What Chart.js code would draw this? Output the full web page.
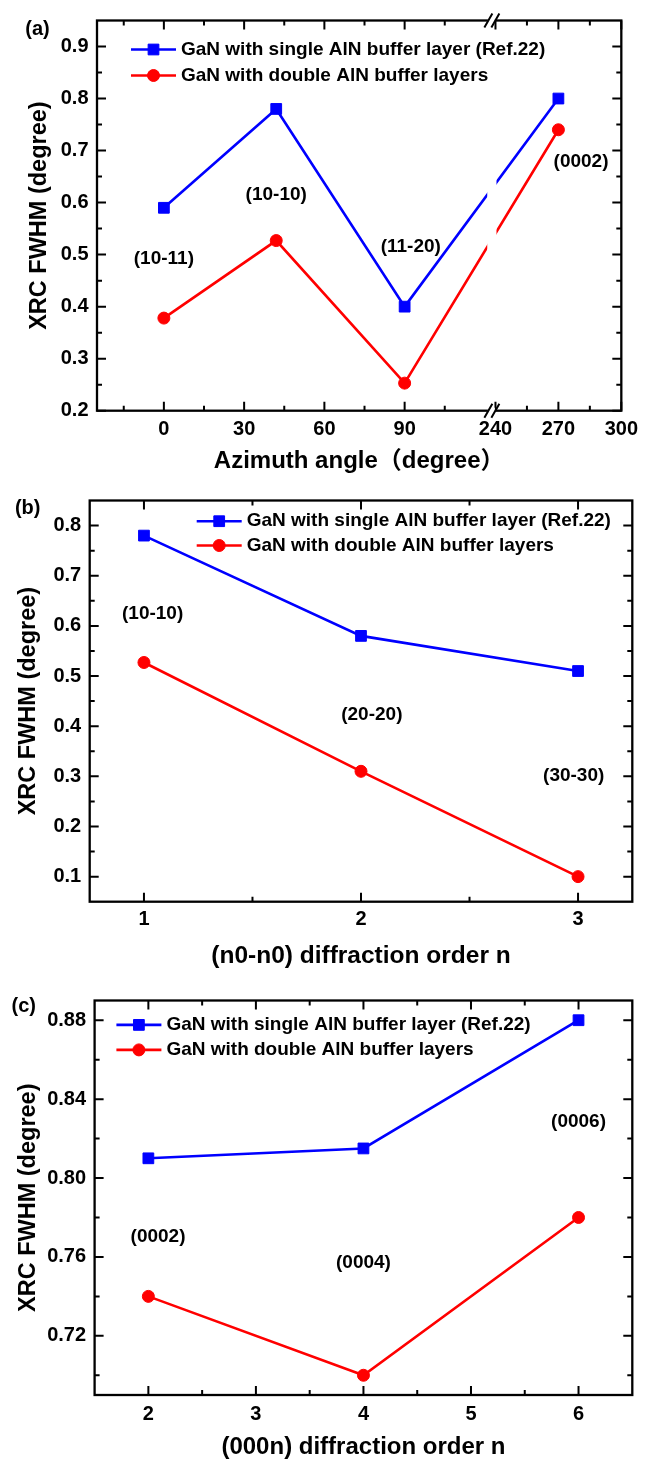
<!DOCTYPE html>
<html><head><meta charset="utf-8">
<script src="https://cdn.jsdelivr.net/npm/chart.js@4.4.1/dist/chart.umd.min.js"></script>
<style>
html,body{margin:0;padding:0;background:#fff;width:645px;height:1462px;overflow:hidden}
.p{position:absolute;left:0;width:645px}
canvas{display:block}
</style></head><body>
<div class="p" style="top:0;height:480px"><canvas id="ca" width="645" height="480"></canvas></div>
<div class="p" style="top:480px;height:500px"><canvas id="cb" width="645" height="500"></canvas></div>
<div class="p" style="top:980px;height:482px"><canvas id="cc" width="645" height="482"></canvas></div>
<script>
// ---------------- DATA ----------------
const seriesNames = ['GaN with single AlN buffer layer (Ref.22)', 'GaN with double AlN buffer layers'];

// (a) azimuth angle
const azimuthA = [0, 42, 90, 270];
const singleA = [0.59, 0.78, 0.40, 0.80];
const doubleA = [0.378, 0.527, 0.253, 0.74];
const planesA = ['(10-11)', '(10-10)', '(11-20)', '(0002)'];
const xTicksA = [0, 30, 60, 90, 240, 270, 300];
const xMinorA = [-15, 15, 45, 75, 105, 255, 285];
const yTicksA = [0.2, 0.3, 0.4, 0.5, 0.6, 0.7, 0.8, 0.9];
const yMinorA = [0.25, 0.35, 0.45, 0.55, 0.65, 0.75, 0.85];

// (b) (n0-n0) diffraction order
const orderB = [1, 2, 3];
const singleB = [0.78, 0.58, 0.51];
const doubleB = [0.527, 0.31, 0.10];
const planesB = ['(10-10)', '(20-20)', '(30-30)'];
const xTicksB = [1, 2, 3];
const xMinorB = [1.5, 2.5];
const yTicksB = [0.1, 0.2, 0.3, 0.4, 0.5, 0.6, 0.7, 0.8];
const yMinorB = [0.15, 0.25, 0.35, 0.45, 0.55, 0.65, 0.75];

// (c) (000n) diffraction order
const orderC = [2, 4, 6];
const singleC = [0.81, 0.815, 0.88];
const doubleC = [0.74, 0.70, 0.78];
const planesC = ['(0002)', '(0004)', '(0006)'];
const xTicksC = [2, 3, 4, 5, 6];
const xMinorC = [2.5, 3.5, 4.5, 5.5];
const yTicksC = [0.72, 0.76, 0.80, 0.84, 0.88];
const yMinorC = [0.70, 0.74, 0.78, 0.82, 0.86];

// ---------------- LAYOUT / STYLE ----------------
const FONT = '"Liberation Sans", Arial, "Noto Sans CJK SC", sans-serif';
Chart.defaults.font.family = FONT;
Chart.defaults.color = '#000';
const BLUE = '#0000ff', RED = '#ff0000';

// broken x axis for (a): segment 1 [-25,122] over 75% of width, segment 2 [240,300] after a gap
const BRK = {lo: [-25, 122], hi: [240, 300], f1: 0.75, f2: 0.76};

class BrokenLinearScale extends Chart.LinearScale {
  getPixelForValue(value) {
    const w = this.right - this.left;
    let f;
    if (value <= (BRK.lo[1] + BRK.hi[0]) / 2) f = (value - BRK.lo[0]) / (BRK.lo[1] - BRK.lo[0]) * BRK.f1;
    else f = BRK.f2 + (value - BRK.hi[0]) / (BRK.hi[1] - BRK.hi[0]) * (1 - BRK.f2);
    return this.left + f * w;
  }
  getValueForPixel(pixel) {
    const f = (pixel - this.left) / (this.right - this.left);
    if (f <= BRK.f1) return BRK.lo[0] + f / BRK.f1 * (BRK.lo[1] - BRK.lo[0]);
    return BRK.hi[0] + (f - BRK.f2) / (1 - BRK.f2) * (BRK.hi[1] - BRK.hi[0]);
  }
}
BrokenLinearScale.id = 'brokenLinear';
BrokenLinearScale.defaults = {};
Chart.register(BrokenLinearScale);

function pts(xs, ys) { return xs.map((x, i) => ({x: x, y: ys[i]})); }

// frame, inward ticks, legend, annotations, panel label
const decorPlugin = {
  id: 'decor',
  afterDatasetsDraw(chart) {
    const c = chart.config.options.plugins.decor;
    const ctx = chart.ctx, a = chart.chartArea;
    const xs = chart.scales.x, ys = chart.scales.y;
    ctx.save();
    // gap in lines at axis break
    if (c.brk) {
      const b1 = xs.left + BRK.f1 * (xs.right - xs.left) - 3;
      const b2 = xs.left + BRK.f2 * (xs.right - xs.left) + 1;
      ctx.fillStyle = '#fff';
      ctx.fillRect(b1, a.top + 2, b2 - b1, a.bottom - a.top - 4);
    }
    // frame
    ctx.strokeStyle = '#000';
    ctx.lineWidth = 2.3;
    ctx.strokeRect(a.left, a.top, a.right - a.left, a.bottom - a.top);
    // ticks
    ctx.lineWidth = 2;
    ctx.beginPath();
    const tx = (vals, len) => vals.forEach(v => {
      const p = xs.getPixelForValue(v);
      ctx.moveTo(p, a.bottom); ctx.lineTo(p, a.bottom - len);
      ctx.moveTo(p, a.top); ctx.lineTo(p, a.top + len);
    });
    const ty = (vals, len) => vals.forEach(v => {
      const p = ys.getPixelForValue(v);
      ctx.moveTo(a.left, p); ctx.lineTo(a.left + len, p);
      ctx.moveTo(a.right, p); ctx.lineTo(a.right - len, p);
    });
    tx(c.xMajor, 9); tx(c.xMinor, 5); ty(c.yMajor, 9); ty(c.yMinor, 5);
    ctx.stroke();
    // break marks
    if (c.brk) {
      const cx = xs.left + (BRK.f1 + BRK.f2) / 2 * (xs.right - xs.left) - 1;
      [a.top, a.bottom].forEach(y => {
        ctx.fillStyle = '#fff';
        ctx.fillRect(cx - 4, y - 3, 7, 6);
        ctx.strokeStyle = '#000';
        ctx.lineWidth = 2;
        ctx.beginPath();
        [-3.5, 3.5].forEach(d => {
          ctx.moveTo(cx + d - 4, y + 7);
          ctx.lineTo(cx + d + 4, y - 7);
        });
        ctx.stroke();
      });
    }
    // annotations (plane labels) at data positions
    ctx.fillStyle = '#000';
    ctx.font = 'bold 19px ' + FONT;
    ctx.textAlign = 'center';
    ctx.textBaseline = 'middle';
    c.notes.forEach(n => {
      ctx.fillText(n.t, xs.getPixelForValue(n.x), ys.getPixelForValue(n.y));
    });
    // legend
    chart.data.datasets.forEach((ds, i) => {
      const y = a.top + c.leg.dy[i];
      const x0 = a.left + c.leg.dx;
      ctx.strokeStyle = ds.borderColor;
      ctx.lineWidth = ds.borderWidth;
      ctx.beginPath(); ctx.moveTo(x0, y); ctx.lineTo(x0 + 45, y); ctx.stroke();
      ctx.fillStyle = ds.pointBackgroundColor;
      ctx.strokeStyle = ds.borderColor;
      ctx.lineWidth = 1;
      Chart.helpers.drawPoint(ctx, {pointStyle: ds.pointStyle, radius: ds.pointRadius, rotation: 0, borderWidth: 1}, x0 + 22.5, y);
      ctx.fillStyle = '#000';
      ctx.textAlign = 'left';
      ctx.font = 'bold 19px ' + FONT;
      ctx.fillText(ds.label, x0 + 50, y);
    });
    // panel label
    ctx.textAlign = 'center';
    ctx.font = 'bold 20px ' + FONT;
    ctx.fillText(c.panel.t, c.panel.x, c.panel.y);
    ctx.restore();
  }
};
Chart.register(decorPlugin);

function makeChart(id, cfg) {
  return new Chart(document.getElementById(id), {
    type: 'line',
    data: {
      datasets: [
        {label: seriesNames[0], data: pts(cfg.xs, cfg.s1), borderColor: BLUE, backgroundColor: BLUE,
         pointBackgroundColor: BLUE, pointStyle: 'rect', pointRadius: 7.6, pointBorderWidth: 1, borderWidth: 2.6},
        {label: seriesNames[1], data: pts(cfg.xs, cfg.s2), borderColor: RED, backgroundColor: RED,
         pointBackgroundColor: RED, pointStyle: 'circle', pointRadius: 6, pointBorderWidth: 1, borderWidth: 2.6}
      ]
    },
    options: {
      responsive: false, animation: false, events: [],
      layout: {padding: {top: cfg.padTop, right: cfg.padRight, left: 0, bottom: 0}},
      scales: {
        x: {
          type: cfg.xType, min: cfg.xMin, max: cfg.xMax,
          grid: {display: false, drawTicks: false}, border: {display: false},
          afterBuildTicks: s => { s.ticks = cfg.xMajor.map(v => ({value: v})); },
          afterFit: s => { s.height = cfg.xH; },
          ticks: {autoSkip: false, maxRotation: 0, padding: cfg.xPad, font: {size: 20, weight: 'bold'},
                  callback: v => String(v)},
          title: {display: true, text: cfg.xTitle, font: {size: cfg.xTitleSize, weight: 'bold'},
                  padding: {top: 0, bottom: cfg.xTitlePad}}
        },
        y: {
          type: 'linear', min: cfg.yMin, max: cfg.yMax,
          grid: {display: false, drawTicks: false}, border: {display: false},
          afterBuildTicks: s => { s.ticks = cfg.yMajor.map(v => ({value: v})); },
          afterFit: s => { s.width = cfg.yW; },
          ticks: {autoSkip: false, padding: 8.5, font: {size: 20, weight: 'bold'},
                  callback: v => Number(v).toFixed(cfg.yDec)},
          title: {display: true, text: 'XRC FWHM (degree)', font: {size: 23.5, weight: 'bold'},
                  padding: {top: cfg.yTitlePad, bottom: 0}}
        }
      },
      plugins: {
        legend: {display: false}, tooltip: {enabled: false},
        decor: {brk: cfg.brk, xMajor: cfg.xMajor, xMinor: cfg.xMinor, yMajor: cfg.yMajor, yMinor: cfg.yMinor,
                notes: cfg.notes, leg: cfg.leg, panel: cfg.panel}
      }
    }
  });
}

makeChart('ca', {
  xs: azimuthA, s1: singleA, s2: doubleA, xType: 'brokenLinear', xMin: -25, xMax: 300, brk: true,
  xMajor: xTicksA, xMinor: xMinorA, yMajor: yTicksA, yMinor: yMinorA, yMin: 0.2, yMax: 0.95, yDec: 1,
  padTop: 16.7, padRight: 16.4, xH: 69.3, yW: 97, xPad: 7, yTitlePad: 25,
  xTitle: 'Azimuth angle\uff08degree\uff09', xTitleSize: 24, xTitlePad: 4.5,
  notes: [{t: planesA[0], x: 0, y: 0.4925}, {t: planesA[1], x: 42, y: 0.615},
          {t: planesA[2], x: 92.3, y: 0.515}, {t: planesA[3], x: 280.8, y: 0.678}],
  leg: {dx: 34, dy: [29, 55]}, panel: {t: '(a)', x: 37.5, y: 29}
});

makeChart('cb', {
  xs: orderB, s1: singleB, s2: doubleB, xType: 'linear', xMin: 0.75, xMax: 3.25, brk: false,
  xMajor: xTicksB, xMinor: xMinorB, yMajor: yTicksB, yMinor: yMinorB, yMin: 0.05, yMax: 0.85, yDec: 1,
  padTop: 19.3, padRight: 12.7, xH: 78.3, yW: 89.7, xPad: 6, yTitlePad: 14,
  xTitle: '(n0-n0) diffraction order n', xTitleSize: 24.5, xTitlePad: 9.5,
  notes: [{t: planesB[0], x: 1.04, y: 0.624}, {t: planesB[1], x: 2.05, y: 0.422}, {t: planesB[2], x: 2.98, y: 0.302}],
  leg: {dx: 107, dy: [20.7, 45]}, panel: {t: '(b)', x: 27.7, y: 28}
});

makeChart('cc', {
  xs: orderC, s1: singleC, s2: doubleC, xType: 'linear', xMin: 1.5, xMax: 6.5, brk: false,
  xMajor: xTicksC, xMinor: xMinorC, yMajor: yTicksC, yMinor: yMinorC, yMin: 0.69, yMax: 0.89, yDec: 2,
  padTop: 18.3, padRight: 12.7, xH: 67, yW: 94.6, xPad: 7, yTitlePad: 14,
  xTitle: '(000n) diffraction order n', xTitleSize: 24, xTitlePad: 0,
  notes: [{t: planesC[0], x: 2.09, y: 0.77}, {t: planesC[1], x: 4.0, y: 0.757}, {t: planesC[2], x: 6.0, y: 0.8287}],
  leg: {dx: 21.8, dy: [24.4, 49.4]}, panel: {t: '(c)', x: 23.7, y: 26.7}
});
</script>
</body></html>
